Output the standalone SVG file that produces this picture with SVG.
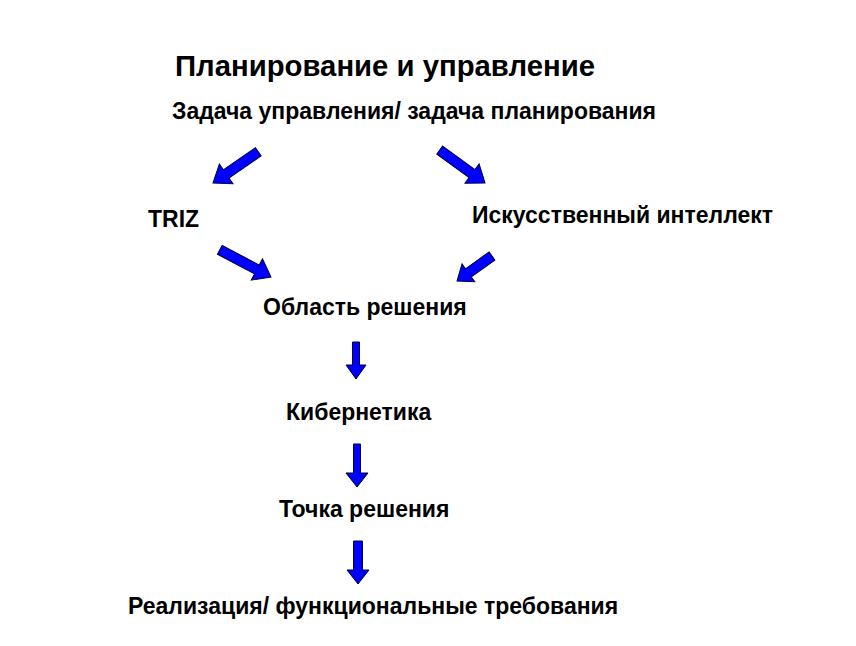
<svg xmlns="http://www.w3.org/2000/svg" width="856" height="646" viewBox="0 0 856 646">
<style>
text{font-family:"Liberation Sans",Arial,sans-serif;font-weight:bold;fill:#000}
.t{font-size:23px}
.h{font-size:29.3px}
.a{fill:#0000ff;stroke:#000033;stroke-width:1}
</style>
<rect width="856" height="646" fill="#fff"/>
<g id="title"><text class="h" x="175" y="76">Планирование и управление</text></g>
<g id="task"><text class="t" x="172" y="119">Задача управления/ задача планирования</text></g>
<g id="triz"><text class="t" x="148" y="227">TRIZ</text></g>
<g id="ai"><text class="t" x="472" y="223">Искусственный интеллект</text></g>
<g id="area"><text class="t" x="263" y="315">Область решения</text></g>
<g id="cyber"><text class="t" x="286" y="420">Кибернетика</text></g>
<g id="point"><text class="t" x="279" y="517">Точка решения</text></g>
<g id="impl"><text class="t" x="128" y="614">Реализация/ функциональные требования</text></g>
<g id="connectors">
<path class="a" transform="translate(213,183) rotate(145.4)" d="M-55,-5 H-16 V-12 L0,0 L-16,12 V5 H-55 Z"/>
<path class="a" transform="translate(485,183) rotate(36)" d="M-56,-5 H-16 V-12 L0,0 L-16,12 V5 H-56 Z"/>
<path class="a" transform="translate(271,277) rotate(28)" d="M-58,-5 H-16 V-12 L0,0 L-16,12 V5 H-58 Z"/>
<path class="a" transform="translate(457,281) rotate(144.5)" d="M-43,-5 H-14 V-11 L0,0 L-14,11 V5 H-43 Z"/>
<path class="a" transform="translate(356,379) rotate(90)" d="M-37,-3.5 H-14 V-10 L0,0 L-14,10 V3.5 H-37 Z"/>
<path class="a" transform="translate(357,487) rotate(90)" d="M-43,-3.5 H-14 V-11 L0,0 L-14,11 V3.5 H-43 Z"/>
<path class="a" transform="translate(358,584) rotate(90)" d="M-43,-4.5 H-14 V-11 L0,0 L-14,11 V4.5 H-43 Z"/>
</g>
</svg>
